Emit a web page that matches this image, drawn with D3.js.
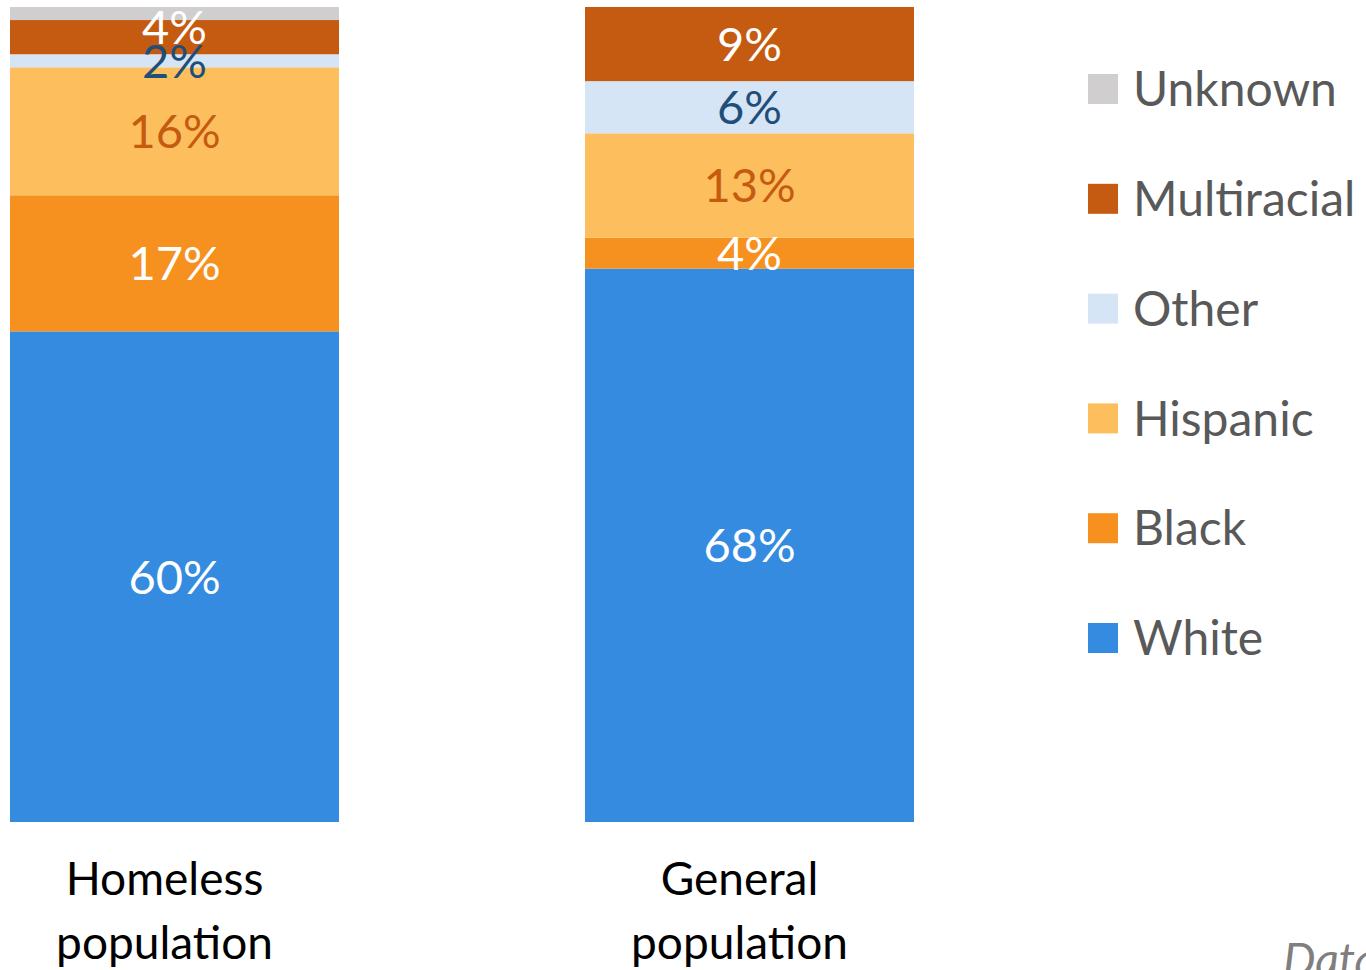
<!DOCTYPE html>
<html><head><meta charset="utf-8">
<script src="https://cdn.jsdelivr.net/npm/d3@7"></script>
<style>html,body{margin:0;padding:0;background:#fff;overflow:hidden}svg{display:block}</style>
</head><body><svg id="c" width="1366" height="970"></svg>
<script>
const categories = ["Homeless population", "General population"];
const series = ["White", "Black", "Hispanic", "Other", "Multiracial", "Unknown"];
const homeless = [60.2, 16.7, 15.7, 1.6, 4.2, 1.6];
const general = [67.9, 3.8, 12.8, 6.4, 9.1, 0];
const homelessLabels = ["60%", "17%", "16%", "2%", "4%", ""];
const generalLabels = ["68%", "4%", "13%", "6%", "9%", ""];
const legendOrder = ["Unknown", "Multiracial", "Other", "Hispanic", "Black", "White"];
const sourceText = "Data: HUD, U.S. Census Bureau";

const colors = {White:"#348BE0", Black:"#F69120", Hispanic:"#FDBF5E", Other:"#D6E5F6", Multiracial:"#C55A11", Unknown:"#D0CECE"};
const labelColors = {White:"#ffffff", Black:"#ffffff", Hispanic:"#C55A11", Other:"#1F4E79", Multiracial:"#ffffff", Unknown:"#ffffff"};
const FONT = "Lato, 'Open Sans', sans-serif";

const rows = [homeless, general].map((vals, i) => {
  const o = {cat: categories[i], labels: [homelessLabels, generalLabels][i]};
  series.forEach((s, j) => o[s] = vals[j]);
  return o;
});

const svg = d3.select("#c");
const x = d3.scaleBand().domain(categories).range([10, 914]).paddingInner(0.4278).paddingOuter(0);
const y = d3.scaleLinear().domain([0, 100]).range([822, 7]);

const stacked = d3.stack().keys(series)(rows);

const g = svg.append("g");
stacked.forEach(layer => {
  g.selectAll(null).data(layer).enter().append("rect")
    .attr("x", d => x(d.data.cat))
    .attr("width", x.bandwidth())
    .attr("y", d => y(d[1]))
    .attr("height", d => Math.max(0, y(d[0]) - y(d[1])))
    .attr("fill", colors[layer.key]);
});

// labels with simple overlap handling (upper label moves up)
rows.forEach((r, i) => {
  const labs = [];
  stacked.forEach((layer, j) => {
    const d = layer[i];
    const txt = r.labels[j];
    if (!txt) return;
    labs.push({txt, key: layer.key, cy: (y(d[0]) + y(d[1])) / 2});
  });
  for (let k = 1; k < labs.length; k++) {
    const gap = labs[k - 1].cy - labs[k].cy;
    if (gap < 34) labs[k].cy = labs[k - 1].cy - 34;
  }
  labs.forEach(l => {
    svg.append("text")
      .attr("x", x(r.cat) + x.bandwidth() / 2)
      .attr("y", l.cy)
      .attr("dy", "0.36em")
      .attr("text-anchor", "middle")
      .attr("font-family", FONT)
      .attr("font-size", 47)
      .attr("fill", labelColors[l.key])
      .text(l.txt);
  });
});

// category axis labels (two lines)
const xAxis = d3.axisBottom(x).tickSize(0).tickFormat("");
const ax = svg.append("g").attr("transform", "translate(0,822)").call(xAxis);
ax.select(".domain").remove();
ax.selectAll(".tick").each(function(d) {
  const words = d.split(" ");
  const t = d3.select(this).append("text")
    .attr("text-anchor", "middle")
    .attr("font-family", FONT)
    .attr("font-size", 46)
    .attr("fill", "#000");
  t.append("tspan").attr("x", -10).attr("y", 73).text(words[0]);
  t.append("tspan").attr("x", -10).attr("y", 137).text(words.slice(1).join(" "));
});

// legend
const lg = svg.append("g").attr("transform", "translate(1088,0)");
const ly = d3.scalePoint().domain(legendOrder).range([89, 638]);
legendOrder.forEach(k => {
  lg.append("rect").attr("x", 0).attr("y", ly(k) - 15).attr("width", 30).attr("height", 30).attr("fill", colors[k]);
  lg.append("text").attr("x", 45).attr("y", ly(k)).attr("dy", "0.36em")
    .attr("font-family", FONT).attr("font-size", 48).attr("fill", "#595959").text(k);
});

svg.append("text").attr("x", 1283).attr("y", 976)
  .attr("font-family", FONT).attr("font-style", "italic").attr("font-size", 46)
  .attr("fill", "#7f7f7f").text(sourceText);
</script></body></html>
